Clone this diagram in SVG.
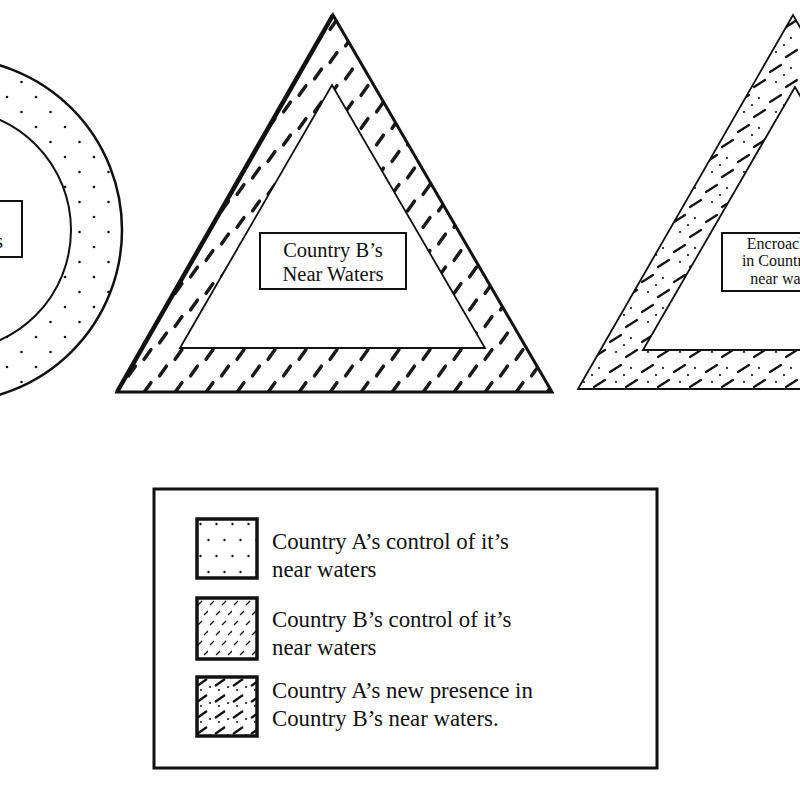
<svg xmlns="http://www.w3.org/2000/svg" width="800" height="786" viewBox="0 0 800 786">
<style>
.lbl{font-family:"Liberation Serif","Times New Roman",serif;fill:#111}
.box{fill:#fff;stroke:#111;stroke-width:2}
.sw{stroke:#111;stroke-width:3.5}
</style>
<defs>
<pattern id="dotsA" patternUnits="userSpaceOnUse" x="0" y="0" width="29" height="30">
<rect width="29" height="30" fill="#fff"/>
<circle cx="7" cy="7" r="1.3" fill="#111"/>
<circle cx="21.5" cy="22" r="1.3" fill="#111"/>
</pattern>
<pattern id="dashB" patternUnits="userSpaceOnUse" x="0" y="0" width="31" height="33">
<rect width="31" height="33" fill="#fff"/>
<g stroke="#1a1a1a" stroke-width="3.5" stroke-linecap="round">
<line x1="4.6" y1="12.8" x2="11.4" y2="3.2"/>
<line x1="20.1" y1="29.3" x2="26.9" y2="19.7"/>
</g>
</pattern>
<pattern id="mixC" patternUnits="userSpaceOnUse" x="0" y="0" width="32" height="30">
<rect width="32" height="30" fill="#fff"/>
<g stroke="#111" stroke-width="2.2" stroke-linecap="round">
<line x1="2" y1="12" x2="13" y2="5"/>
<line x1="18" y1="27" x2="29" y2="20"/>
</g>
<g fill="#111">
<circle cx="23" cy="8" r="1.1"/>
<circle cx="8" cy="22" r="1.1"/>
<circle cx="16" cy="15" r="1.1"/>
</g>
</pattern>
<pattern id="dotsL" patternUnits="userSpaceOnUse" x="196" y="520" width="16" height="32">
<rect width="16" height="32" fill="#fff"/>
<circle cx="4.5" cy="4" r="1.2" fill="#111"/>
<circle cx="12.5" cy="20" r="1.2" fill="#111"/>
</pattern>
<pattern id="dashL" patternUnits="userSpaceOnUse" x="196" y="597" width="12" height="20">
<rect width="12" height="20" fill="#fff"/>
<g stroke="#111" stroke-width="1.3">
<line x1="2" y1="8" x2="6" y2="4"/>
<line x1="8" y1="18" x2="12" y2="14"/>
</g>
</pattern>
<pattern id="mixL" patternUnits="userSpaceOnUse" x="196" y="676" width="18" height="16">
<rect width="18" height="16" fill="#fff"/>
<line x1="1" y1="10" x2="11" y2="3" stroke="#111" stroke-width="2.2"/>
<circle cx="14" cy="11" r="1" fill="#111"/>
<circle cx="5" cy="14" r="1" fill="#111"/>
</pattern>
</defs>
<rect width="800" height="786" fill="#fff"/>

<g id="countryA">
<circle cx="-50" cy="230" r="172" fill="url(#dotsA)" stroke="#111" stroke-width="2.5"/>
<circle cx="-50" cy="230" r="121" fill="#fff" stroke="#111" stroke-width="2"/>
<rect class="box" x="-60" y="201" width="82" height="56"/>
<text class="lbl" font-size="20.5" text-anchor="end"><tspan x="-8" y="224">Country A’s</tspan><tspan x="3" y="248">Near Waters</tspan></text>
</g>

<g id="countryB">
<polygon points="117,392 333,15 552,392" fill="url(#dashB)" stroke="#111" stroke-width="3" stroke-linejoin="miter"/>
<line x1="117" y1="392" x2="333" y2="15" stroke="#111" stroke-width="4.5"/>
<polygon points="180,348 332,85 485,348" fill="#fff" stroke="#111" stroke-width="1.8"/>
<rect class="box" x="260" y="233" width="146" height="56"/>
<text class="lbl" font-size="20.5" text-anchor="middle"><tspan x="333" y="257">Country B’s</tspan><tspan x="333" y="281">Near Waters</tspan></text>
</g>

<g id="encroachment">
<polygon points="578,389 793,15 1008,389" fill="url(#mixC)" stroke="#111" stroke-width="1.8"/>
<polygon points="643,350 795,87 947,350" fill="#fff" stroke="#111" stroke-width="1.8"/>
<rect class="box" x="722" y="233" width="142" height="58"/>
<text class="lbl" font-size="16" text-anchor="middle"><tspan x="793" y="249">Encroachment</tspan><tspan x="789" y="266">in Country B’s</tspan><tspan x="787" y="284">near waters</tspan></text>
</g>

<g id="legend">
<rect x="154" y="489" width="503" height="279" fill="#fff" stroke="#111" stroke-width="3"/>
<rect class="sw" x="197" y="519" width="60" height="59" fill="url(#dotsL)"/>
<rect class="sw" x="197" y="598" width="60" height="61" fill="url(#dashL)"/>
<rect class="sw" x="197" y="677" width="60" height="59" fill="url(#mixL)"/>
<text class="lbl" font-size="22.8"><tspan x="272" y="549">Country A’s control of it’s</tspan><tspan x="272" y="577">near waters</tspan></text>
<text class="lbl" font-size="22.8"><tspan x="272" y="627">Country B’s control of it’s</tspan><tspan x="272" y="655">near waters</tspan></text>
<text class="lbl" font-size="22.8"><tspan x="272" y="698">Country A’s new presence in</tspan><tspan x="272" y="726">Country B’s near waters.</tspan></text>
</g>

<g id="connectors"></g>
</svg>
